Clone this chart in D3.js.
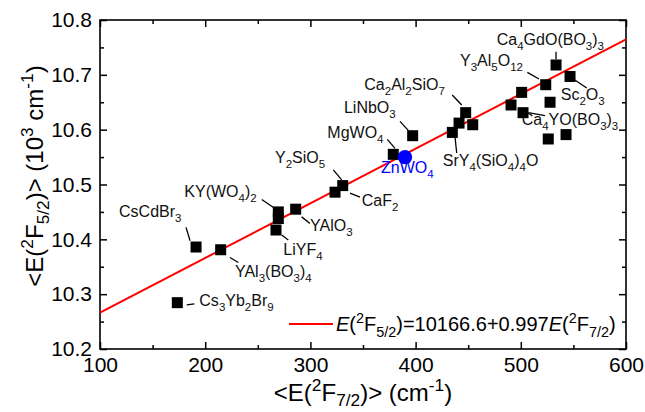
<!DOCTYPE html>
<html>
<head>
<meta charset="utf-8">
<script src="https://cdnjs.cloudflare.com/ajax/libs/d3/7.8.5/d3.min.js"></script>
<style>
body { margin: 0; background: #fff; }
svg { display: block; font-family: "Liberation Sans", Arial, sans-serif; }
</style>
</head>
<body>
<script>
// host materials, <E(2F7/2)> in cm-1 and <E(2F5/2)> in 10^3 cm-1
var names = ["Cs_3Yb_2Br_9", "CsCdBr_3", "YAl_3(BO_3)_4", "LiYF_4", "KY(WO_4)_2", "",
	"YAlO_3", "CaF_2", "Y_2SiO_5", "MgWO_4", "LiNbO_3", "SrY_4(SiO_4)_4O", "",
	"Ca_2Al_2SiO_7", "", "", "", "Ca_4YO(BO_3)_3", "", "", "", "Y_3Al_5O_{12}",
	"Ca_4GdO(BO_3)_3", "Sc_2O_3"];
var e72 = [173.5, 191.3, 214.7, 267.3, 269.5, 269.5, 286, 323.4, 330.7, 378.8, 397.2, 434.9,
	441.3, 447.6, 454.3, 490.7, 500.8, 502.1, 526.1, 543, 527.8, 523.7, 533.5, 546.8];
var e52 = [10.2845, 10.386, 10.381, 10.417, 10.450, 10.438, 10.455, 10.486, 10.498, 10.555,
	10.589, 10.595, 10.612, 10.631, 10.609, 10.645, 10.668, 10.631, 10.583, 10.591, 10.650,
	10.682, 10.718, 10.697];

// this work
var znName = ["ZnWO_4"];
var zn72 = [389.9];
var zn52 = [10.550];

// linear fit E(5/2) = a + b*E(7/2)
var fitA = 10166.6, fitB = 0.997;
var fitRange = [100, 600];

var xTicks = [100, 200, 300, 400, 500, 600];
var yTicks = [10.2, 10.3, 10.4, 10.5, 10.6, 10.7, 10.8];

// label placement relative to the marker: text dx,dy and leader x1,y1,x2,y2 (px)
var labelOffsets = {
	0: [22, 3.3, 9.4, 2.3, 17, 1.3],
	1: [-77, -29.6, -10, -19.6, -6, -6.3],
	2: [14.3, 27.7, 9.3, 7.7, 17.6, 12.7],
	3: [7.3, 25, 5.7, 5, 12.3, 10],
	4: [-94, -15, -16.6, -12.4, -3.3, -3.4],
	6: [14.3, 22, 6, 7.7, 14.3, 14.3],
	7: [26.7, 14.2, 15, 1, 25, 5],
	8: [-67.7, -22.4, -9.4, -15.7, -1, -5.7],
	9: [-66, -16, -6, -15, 1.7, -6],
	10: [-68.7, -22.7, -12.7, -14.3, -4.4, -5.3],
	11: [-9.6, 33.3, 2.7, 4.6, 4.4, 20.6],
	13: [-101.4, -22.7, -13.4, -17.7, -4, -7.7],
	17: [-1.3, 12.3, 5.3, 0, 22, 3],
	21: [-85.7, -18.3, -18.4, -12.3, -6.7, -5.7],
	22: [-59.3, -20, 0, -13.3, 0, -5.7],
	23: [-9.3, 23.3, 3.3, 2.6, 16.7, 11.6]
};
var znOffset = [-24, 16];

var W = 645, H = 412;
var padL = 100, padR = 626, padT = 20, padB = 349;

var svg = d3.select("body").append("svg")
	.attr("width", W)
	.attr("height", H);

var x = d3.scaleLinear().domain([100, 600]).range([padL, padR]);
var y = d3.scaleLinear().domain([10.2, 10.8]).range([padB, padT]);

// write text with _sub, ^sup and *italic* markup as tspans
function rich(sel, str, size, subShift) {
	var re = /([_^])(\{[^}]*\}|.)|\*([^*]+)\*|([^_^*]+)/g, m, shift = 0;
	subShift = subShift || 0.3;
	while ((m = re.exec(str)) !== null) {
		var t = sel.append("tspan");
		if (m[1]) {
			var s = m[2].charAt(0) === "{" ? m[2].slice(1, -1) : m[2];
			var target = m[1] === "_" ? size * subShift : -size * 0.42;
			t.attr("dy", target - shift).style("font-size", (size * 0.72) + "px").text(s);
			shift = target;
		} else {
			t.attr("dy", -shift).text(m[3] || m[4]);
			if (m[3]) t.style("font-style", "italic");
			shift = 0;
		}
	}
}

// axes, ticks pointing inward
function minors(step, lo, hi) {
	return d3.range(lo, hi + step / 2, step);
}
var xMinor = minors(50, 100, 600).filter(function(v) { return xTicks.indexOf(v) < 0; });
var yMinor = minors(0.05, 10.2, 10.8).map(function(v) { return +v.toFixed(2); })
	.filter(function(v) { return yTicks.indexOf(v) < 0; });

function styleAxis(g) {
	g.select(".domain").remove();
	g.selectAll("line").attr("stroke", "#000").attr("stroke-width", 1.5);
	g.selectAll("text").style("font-size", "21px").attr("fill", "#000");
}

svg.append("g").attr("transform", "translate(0," + padB + ")")
	.call(d3.axisBottom(x).tickValues(xTicks).tickSize(-7).tickPadding(8).tickFormat(d3.format("d")))
	.call(styleAxis);
svg.append("g").attr("transform", "translate(0," + padB + ")")
	.call(d3.axisBottom(x).tickValues(xMinor).tickSize(-4).tickFormat(""))
	.call(styleAxis);
svg.append("g").attr("transform", "translate(0," + padT + ")")
	.call(d3.axisTop(x).tickValues(xTicks).tickSize(-7).tickFormat(""))
	.call(styleAxis);
svg.append("g").attr("transform", "translate(0," + padT + ")")
	.call(d3.axisTop(x).tickValues(xMinor).tickSize(-4).tickFormat(""))
	.call(styleAxis);

svg.append("g").attr("transform", "translate(" + padL + ",0)")
	.call(d3.axisLeft(y).tickValues(yTicks).tickSize(-7).tickPadding(8).tickFormat(d3.format(".1f")))
	.call(styleAxis);
svg.append("g").attr("transform", "translate(" + padL + ",0)")
	.call(d3.axisLeft(y).tickValues(yMinor).tickSize(-4).tickFormat(""))
	.call(styleAxis);
svg.append("g").attr("transform", "translate(" + padR + ",0)")
	.call(d3.axisRight(y).tickValues(yTicks).tickSize(-7).tickFormat(""))
	.call(styleAxis);
svg.append("g").attr("transform", "translate(" + padR + ",0)")
	.call(d3.axisRight(y).tickValues(yMinor).tickSize(-4).tickFormat(""))
	.call(styleAxis);

svg.append("rect")
	.attr("x", padL).attr("y", padT)
	.attr("width", padR - padL).attr("height", padB - padT)
	.attr("fill", "none").attr("stroke", "#000").attr("stroke-width", 1.6);

// fit line
svg.append("line")
	.attr("x1", x(fitRange[0])).attr("y1", y((fitA + fitB * fitRange[0]) / 1000))
	.attr("x2", x(fitRange[1])).attr("y2", y((fitA + fitB * fitRange[1]) / 1000))
	.attr("stroke", "#ff0000").attr("stroke-width", 2);

// leaders and labels
var ann = svg.append("g");
names.forEach(function(n, i) {
	var o = labelOffsets[i];
	if (!n || !o) return;
	var px = x(e72[i]), py = y(e52[i]);
	ann.append("line")
		.attr("x1", px + o[2]).attr("y1", py + o[3])
		.attr("x2", px + o[4]).attr("y2", py + o[5])
		.attr("stroke", "#000").attr("stroke-width", 1.3);
	var t = ann.append("text")
		.attr("x", px + o[0]).attr("y", py + o[1])
		.style("font-size", "16px").attr("fill", "#111");
	rich(t, n, 16);
});

// markers
var sq = 11;
svg.selectAll("rect.pt")
	.data(d3.range(e72.length))
	.enter().append("rect")
	.attr("class", "pt")
	.attr("x", function(i) { return x(e72[i]) - sq / 2; })
	.attr("y", function(i) { return y(e52[i]) - sq / 2; })
	.attr("width", sq).attr("height", sq)
	.attr("fill", "#000");

svg.selectAll("circle.zn")
	.data(zn72)
	.enter().append("circle")
	.attr("class", "zn")
	.attr("cx", function(d) { return x(d); })
	.attr("cy", function(d, i) { return y(zn52[i]); })
	.attr("r", 7.2)
	.attr("fill", "#0000ff");

var zt = svg.append("text")
	.attr("x", x(zn72[0]) + znOffset[0]).attr("y", y(zn52[0]) + znOffset[1])
	.style("font-size", "16px").attr("fill", "#0000ff");
rich(zt, znName[0], 16);

// legend
svg.append("line")
	.attr("x1", 289).attr("x2", 333).attr("y1", 324).attr("y2", 324)
	.attr("stroke", "#ff0000").attr("stroke-width", 2);
var lt = svg.append("text").attr("x", 336).attr("y", 331)
	.style("font-size", "20px").attr("fill", "#000");
rich(lt, "*E*(^2F_{5/2})=" + fitA + "+" + fitB + "*E*(^2F_{7/2})", 20);

// axis titles
var xt = svg.append("text")
	.attr("x", 363).attr("y", 401)
	.attr("text-anchor", "middle")
	.style("font-size", "24px").attr("fill", "#000");
rich(xt, "<E(^2F_{7/2})> (cm^{-1})", 24, 0.22);

var yt = svg.append("text")
	.attr("transform", "translate(43,176) rotate(-90)")
	.attr("text-anchor", "middle")
	.style("font-size", "24px").attr("fill", "#000");
rich(yt, "<E(^2F_{5/2})> (10^3 cm^{-1})", 24, 0.25);
</script>
</body>
</html>
